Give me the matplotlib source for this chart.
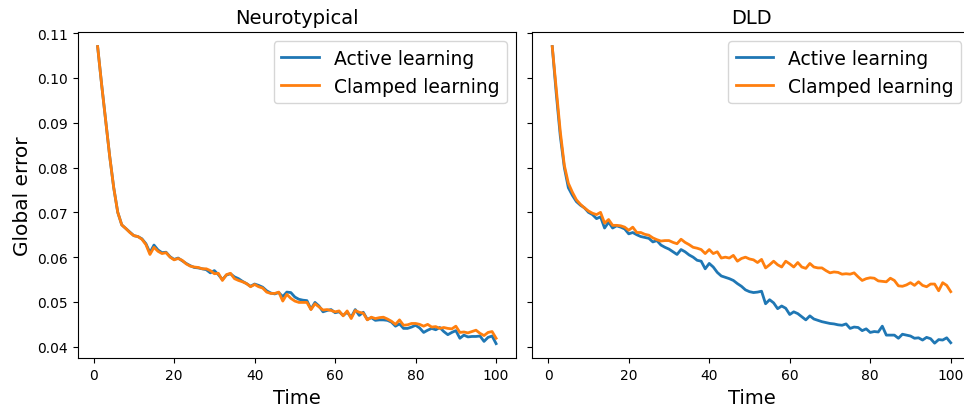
import numpy as np
import matplotlib
matplotlib.use('Agg')
import matplotlib.pyplot as plt


time = np.arange(1, 101)

nt_active = [
    0.1070, 0.0985, 0.0905, 0.0825, 0.0755, 0.0700, 0.0672, 0.0664, 0.0656, 0.0648,
    0.0646, 0.0641, 0.0630, 0.0610, 0.0627, 0.0616, 0.0610, 0.0611, 0.0601, 0.0595,
    0.0598, 0.0592, 0.0586, 0.0581, 0.0577, 0.0576, 0.0574, 0.0572, 0.0565, 0.0570,
    0.0561, 0.0550, 0.0560, 0.0563, 0.0556, 0.0552, 0.0546, 0.0541, 0.0535, 0.0540,
    0.0537, 0.0533, 0.0525, 0.0520, 0.0518, 0.0521, 0.0512, 0.0522, 0.0521, 0.0511,
    0.0506, 0.0504, 0.0503, 0.0484, 0.0499, 0.0491, 0.0478, 0.0481, 0.0483, 0.0476,
    0.0478, 0.0470, 0.0477, 0.0466, 0.0483, 0.0470, 0.0477, 0.0461, 0.0465, 0.0459,
    0.0460, 0.0460, 0.0459, 0.0455, 0.0446, 0.0451, 0.0441, 0.0441, 0.0444, 0.0448,
    0.0442, 0.0432, 0.0437, 0.0441, 0.0438, 0.0443, 0.0434, 0.0427, 0.0432, 0.0436,
    0.0419, 0.0426, 0.0422, 0.0423, 0.0423, 0.0424, 0.0412, 0.0421, 0.0424, 0.0407,
]

nt_clamped = [
    0.1070, 0.0985, 0.0905, 0.0825, 0.0755, 0.0700, 0.0672, 0.0664, 0.0655, 0.0648,
    0.0646, 0.0640, 0.0628, 0.0606, 0.0622, 0.0613, 0.0608, 0.0610, 0.0600, 0.0594,
    0.0597, 0.0593, 0.0585, 0.0580, 0.0578, 0.0577, 0.0574, 0.0574, 0.0570, 0.0563,
    0.0564, 0.0548, 0.0561, 0.0564, 0.0552, 0.0548, 0.0545, 0.0541, 0.0534, 0.0539,
    0.0534, 0.0531, 0.0522, 0.0519, 0.0519, 0.0522, 0.0502, 0.0517, 0.0508, 0.0502,
    0.0499, 0.0499, 0.0499, 0.0483, 0.0496, 0.0489, 0.0482, 0.0483, 0.0481, 0.0478,
    0.0480, 0.0469, 0.0480, 0.0463, 0.0481, 0.0477, 0.0475, 0.0460, 0.0466, 0.0463,
    0.0465, 0.0466, 0.0462, 0.0457, 0.0450, 0.0460, 0.0448, 0.0449, 0.0452, 0.0452,
    0.0450, 0.0446, 0.0450, 0.0444, 0.0445, 0.0441, 0.0443, 0.0441, 0.0440, 0.0446,
    0.0432, 0.0433, 0.0431, 0.0434, 0.0437, 0.0430, 0.0425, 0.0432, 0.0434, 0.0419,
]

dld_active = [
    0.1070, 0.0965, 0.0870, 0.0800, 0.0755, 0.0738, 0.0724, 0.0716, 0.0710, 0.0700,
    0.0695, 0.0686, 0.0690, 0.0665, 0.0678, 0.0665, 0.0670, 0.0667, 0.0663, 0.0652,
    0.0655, 0.0650, 0.0646, 0.0644, 0.0642, 0.0634, 0.0637, 0.0627, 0.0622, 0.0618,
    0.0612, 0.0606, 0.0617, 0.0612, 0.0605, 0.0600, 0.0593, 0.0591, 0.0574, 0.0586,
    0.0578, 0.0566, 0.0558, 0.0555, 0.0552, 0.0548, 0.0541, 0.0535, 0.0527, 0.0523,
    0.0521, 0.0522, 0.0524, 0.0496, 0.0505, 0.0498, 0.0485, 0.0491, 0.0486, 0.0472,
    0.0478, 0.0474, 0.0467, 0.0460, 0.0469, 0.0462, 0.0459, 0.0456, 0.0454, 0.0452,
    0.0451, 0.0449, 0.0448, 0.0451, 0.0441, 0.0444, 0.0443, 0.0436, 0.0440, 0.0432,
    0.0434, 0.0433, 0.0446, 0.0426, 0.0426, 0.0426, 0.0419, 0.0428, 0.0426, 0.0424,
    0.0419, 0.0420, 0.0415, 0.0421, 0.0418, 0.0408, 0.0416, 0.0415, 0.0420, 0.0409,
]

dld_clamped = [
    0.1070, 0.0975, 0.0880, 0.0805, 0.0765, 0.0745, 0.0728, 0.0718, 0.0710, 0.0703,
    0.0698, 0.0695, 0.0700, 0.0676, 0.0684, 0.0671, 0.0671, 0.0670, 0.0667, 0.0660,
    0.0667, 0.0655, 0.0655, 0.0651, 0.0649, 0.0643, 0.0639, 0.0636, 0.0637, 0.0637,
    0.0633, 0.0630, 0.0640, 0.0633, 0.0628, 0.0622, 0.0620, 0.0617, 0.0608, 0.0617,
    0.0608, 0.0612, 0.0598, 0.0600, 0.0598, 0.0604, 0.0591, 0.0597, 0.0600, 0.0596,
    0.0594, 0.0588, 0.0595, 0.0576, 0.0583, 0.0591, 0.0583, 0.0578, 0.0591, 0.0585,
    0.0578, 0.0588, 0.0578, 0.0575, 0.0586, 0.0578, 0.0576, 0.0576, 0.0570, 0.0565,
    0.0567, 0.0566, 0.0562, 0.0563, 0.0562, 0.0565, 0.0556, 0.0548, 0.0552, 0.0554,
    0.0553, 0.0547, 0.0546, 0.0545, 0.0553, 0.0548, 0.0536, 0.0535, 0.0538, 0.0543,
    0.0537, 0.0545, 0.0537, 0.0534, 0.0540, 0.0540, 0.0525, 0.0543, 0.0537, 0.0523,
]

groups = ['Neurotypical', 'DLD']
series = [(nt_active, nt_clamped), (dld_active, dld_clamped)]
labels = ['Active learning', 'Clamped learning']


fig, axes = plt.subplots(1, 2, sharey=True, figsize=(9.64, 4.10), dpi=100)
axes[0].set_position([0.0806, 0.1232, 0.4547, 0.797])
axes[1].set_position([0.5522, 0.1232, 0.4547, 0.797])

for ax, name, (active, clamped) in zip(axes, groups, series):
    ax.plot(time, active, color='tab:blue', lw=2, label=labels[0])
    ax.plot(time, clamped, color='tab:orange', lw=2, label=labels[1])
    ax.set_title(name, fontsize=14)
    ax.set_xlabel('Time', fontsize=14)
    ax.tick_params(labelsize=10)
    ax.legend(fontsize=13.5, loc='upper right')

axes[0].set_ylabel('Global error', fontsize=14.5)
axes[0].set_xticks([0, 20, 40, 60, 80, 100])
axes[1].set_xticks([0, 20, 40, 60, 80, 100])

plt.savefig('out.png', dpi=100)
